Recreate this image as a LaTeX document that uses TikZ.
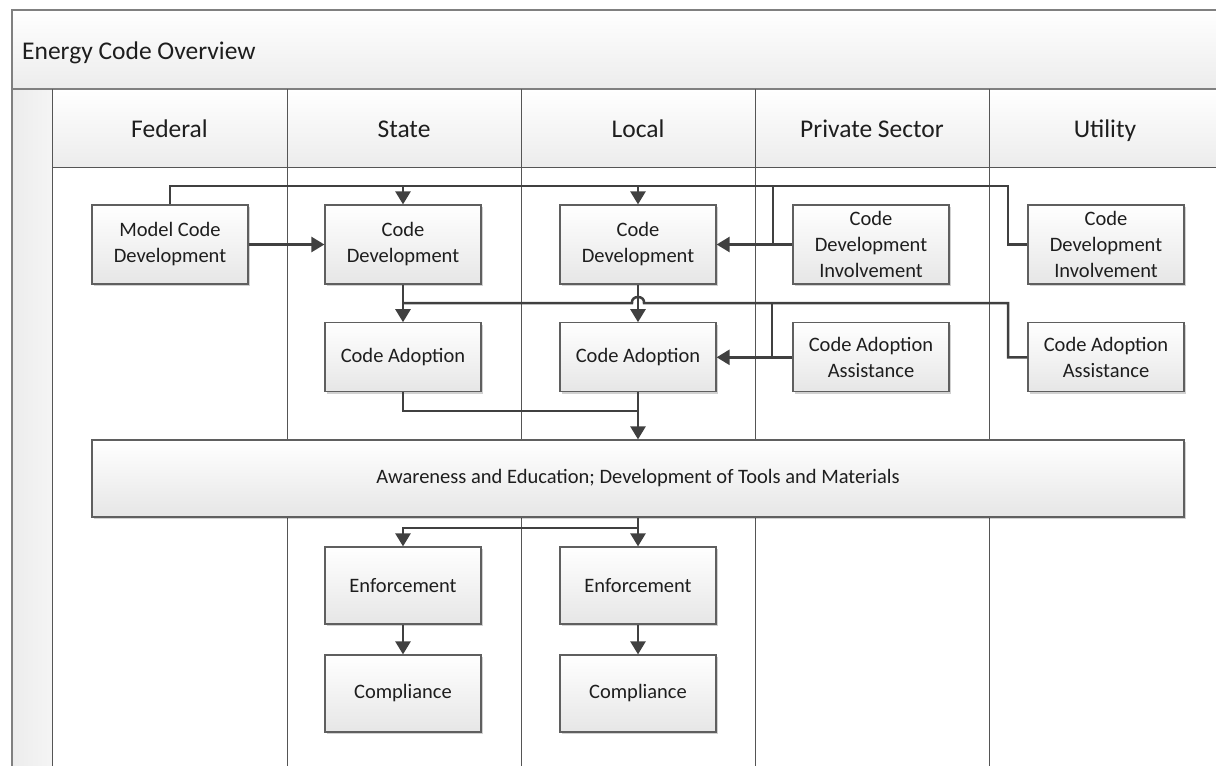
\documentclass[tikz,border=0pt]{standalone}
\usepackage{fontspec}
\setmainfont{Carlito}
\usetikzlibrary{arrows.meta,shadows}
\definecolor{ln}{HTML}{404040}
\definecolor{boxb}{HTML}{5F5F5F}
\definecolor{boxg}{HTML}{E6E6E6}
\definecolor{hdrg}{HTML}{ECECEC}
\definecolor{lane}{HTML}{555555}
\definecolor{frm}{HTML}{808080}
\definecolor{txt}{HTML}{1E1E1E}
\begin{document}
\begin{tikzpicture}[x=1pt,y=-1pt,
  box/.style={draw=boxb, line width=1.2pt, top color=white, bottom color=boxg,
    minimum width=156pt, minimum height=79pt, inner sep=0pt, align=center,
    font=\fontsize{20.5}{26}\selectfont, text=txt,
    drop shadow={shadow xshift=2pt, shadow yshift=-2pt, fill=black, opacity=0.18}},
  hdr/.style={font=\fontsize{25.5}{30}\selectfont, text=txt, inner sep=0pt, anchor=base},
  conn/.style={draw=ln, line width=2.5pt},
  arr/.style={conn, -{Triangle[length=13pt,width=15pt]}},
  lanel/.style={draw=lane, line width=1pt},
  frame/.style={draw=frm, line width=1.4pt}]
\useasboundingbox (0,0) rectangle (1216,766);
% pool background
\fill[top color=white, bottom color=hdrg] (12,10) rectangle (1216,89);
\fill[left color=hdrg, right color=white!96!black] (12,89) rectangle (52,766);
\fill[top color=white, bottom color=hdrg] (52,89) rectangle (1216,167);
\draw[frame] (12,766) -- (12,10) -- (1216,10);
\draw[frame] (12,89) -- (1216,89);
\draw[lanel] (52,89) -- (52,766);
\draw[lanel] (52,167) -- (1216,167);
\foreach \xx in {287,521,755,989} \draw[lanel] (\xx,89) -- (\xx,766);
% titles
\node[hdr, anchor=base west] (title) at (22,59) {Energy Code Overview};
\node[hdr] (hfed) at (169.5,137) {Federal};
\node[hdr] (hsta) at (404,137) {State};
\node[hdr] (hloc) at (638,137) {Local};
\node[hdr] (hpri) at (872,137) {Private Sector};
\node[hdr] (huti) at (1105,137) {Utility};
% boxes
\node[box] (mcd) at (170,244.5) {Model Code\\Development};
\node[box] (scd) at (403,244.5) {Code\\Development};
\node[box] (lcd) at (638,244.5) {Code\\Development};
\node[box] (pcdi) at (871,244.5) {Code\\Development\\Involvement};
\node[box] (ucdi) at (1106,244.5) {Code\\Development\\Involvement};
\node[box, minimum height=69pt] (sca) at (403,357.3) {Code Adoption};
\node[box, minimum height=69pt] (lca) at (638,357.3) {Code Adoption};
\node[box, minimum height=69pt] (pcaa) at (871,357.3) {Code Adoption\\Assistance};
\node[box, minimum height=69pt] (ucaa) at (1106,357.3) {Code Adoption\\Assistance};
\node[box, minimum width=1092pt, minimum height=77pt] (aw) at (638,478.5) {Awareness and Education; Development of Tools and Materials};
\node[box, minimum height=77pt] (sen) at (403,585.5) {Enforcement};
\node[box, minimum height=77pt] (len) at (638,585.5) {Enforcement};
\node[box, minimum height=77pt] (scomp) at (403,693.5) {Compliance};
\node[box, minimum height=77pt] (lcomp) at (638,693.5) {Compliance};
% junction coordinates
\coordinate (busA) at (1008,186);
\coordinate (jPA) at (773,186);
\coordinate (busB) at (1008,303);
\coordinate (jSB) at (403,303);
\coordinate (hopL) at (632,303);
\coordinate (hopR) at (644,303);
\coordinate (jPB) at (772,303);
\coordinate (jC) at (638,411);
\coordinate (jD) at (638,528);
% connectors: development bus
\draw[conn] (mcd.north) |- (busA) |- (ucdi.west);
\draw[arr] (scd.north |- busA) -- (scd.north);
\draw[arr] (lcd.north |- busA) -- (lcd.north);
\draw[conn] (jPA) -- (jPA |- pcdi.west);
\draw[arr] (pcdi.west) -- (lcd.east);
\draw[arr] (mcd.east) -- (scd.west);
% adoption bus
\draw[conn] (jSB) -- (hopL) .. controls (631,295) and (645,295) .. (hopR) -- (busB) |- (ucaa.west);
\draw[arr] (scd.south) -- (sca.north);
\draw[arr] (lcd.south) -- (lca.north);
\draw[conn] (jPB) -- (jPB |- pcaa.west);
\draw[arr] (pcaa.west) -- (lca.east);
% to awareness
\draw[conn] (sca.south) |- (jC);
\draw[arr] (lca.south) -- (aw.north);
% to enforcement
\draw[arr] (aw.south) -- (len.north);
\draw[arr] (jD) -| (sen.north);
\draw[arr] (sen.south) -- (scomp.north);
\draw[arr] (len.south) -- (lcomp.north);
\end{tikzpicture}
\end{document}
